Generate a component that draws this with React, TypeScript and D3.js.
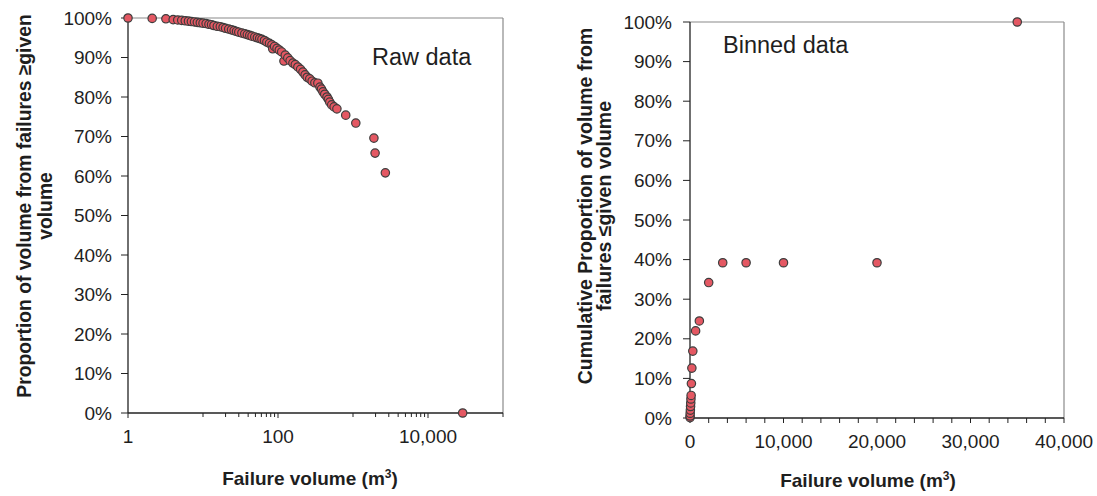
import React from "react";
import * as d3 from "d3";

// ---- Raw data (left chart): failure volume (m3) and proportion of volume from failures >= given volume
const rawVolume = [
  1, 2.1, 3.2, 4.0, 4.6, 5.2, 5.8, 6.4, 7.0, 7.7, 8.4, 9.2, 10, 11, 12, 13, 14, 15.5, 17, 18.5,
  20, 22, 24, 26, 28, 30, 33, 36, 39, 42, 45, 49, 53, 57, 61, 66, 71, 77, 83, 85,
  90, 97, 104, 112, 120, 125, 135, 145, 158, 170, 184, 200, 215, 230, 245, 265, 285, 310, 340, 363,
  380, 398, 420, 450, 470, 490, 520, 560, 610, 800, 1090, 1900, 1970, 2700, 29000,
];
const rawProportion = [
  100, 99.9, 99.8, 99.6, 99.5, 99.4, 99.3, 99.2, 99.1, 99.0, 98.9, 98.8, 98.7, 98.6, 98.4, 98.3, 98.1, 97.9, 97.8, 97.6,
  97.4, 97.2, 97.0, 96.8, 96.6, 96.4, 96.2, 96.0, 95.8, 95.6, 95.4, 95.2, 95.0, 94.8, 94.6, 94.3, 93.9, 93.6, 93.2, 92.2,
  92.8, 92.3, 91.9, 91.4, 89.1, 90.6, 89.9, 89.2, 88.6, 88.2, 87.6, 87.0, 86.3, 85.6, 85.0, 84.6, 84.0, 83.6, 83.5, 82.5,
  82.0, 81.3, 80.7, 80.0, 79.4, 78.7, 78.0, 77.5, 77.0, 75.4, 73.4, 69.6, 65.8, 60.8, 0,
];

// ---- Binned data (right chart)
const binVolume = [
  5, 10, 20, 40, 60, 80, 100, 120, 150, 200, 300, 600, 1000, 2000, 3500, 6000, 10000, 20000, 35000,
];
const binProportion = [
  0.1, 0.5, 1.2, 2.0, 2.9, 3.8, 4.8, 5.7, 8.7, 12.6, 16.9, 22.0, 24.5, 34.2, 39.2, 39.2, 39.2, 39.2, 100,
];

// ---- Axis ticks
const yTicks = [0, 10, 20, 30, 40, 50, 60, 70, 80, 90, 100];
const leftXMajor = [1, 100, 10000];
const leftXMinor = [10, 20, 30, 40, 50, 60, 70, 80, 90, 1000, 2000, 3000, 4000, 5000, 6000, 7000, 8000, 9000, 100000];
const rightXLabels = [0, 10000, 20000, 30000, 40000];
const rightXTicks = d3.range(0, 40001, 2000);

const FONT = "'Liberation Sans', Arial, Helvetica, sans-serif";
const DOT_FILL = "#e45863";
const DOT_STROKE = "#3d3d3d";
const AXIS = "#222";
const BORDER = "#8a8a8a";
const TEXT = "#1e1e1e";

const fmt = d3.format(",");

export default function App() {
  // Left chart scales
  const lx = d3.scaleLog().domain([1, 100000]).range([128, 503]);
  const ly = d3.scaleLinear().domain([0, 100]).range([413, 18]);
  // Right chart scales
  const rx = d3.scaleLinear().domain([0, 40000]).range([690, 1064]);
  const ry = d3.scaleLinear().domain([0, 100]).range([418, 22]);

  const rawPts = rawVolume.map((v, i) => ({ v, p: rawProportion[i] }));
  const binPts = binVolume.map((v, i) => ({ v, p: binProportion[i] }));

  return (
    <svg
      width={1097}
      height={496}
      style={{ position: "absolute", left: 0, top: 0, background: "#fff" }}
      fontFamily={FONT}
    >
      <rect x={0} y={0} width={1097} height={496} fill="#fff" />

      {/* ================= LEFT CHART ================= */}
      <g>
        <line x1={lx(1)} x2={lx(100000)} y1={ly(100)} y2={ly(100)} stroke={BORDER} strokeWidth={1.2} />
        <line x1={lx(100000)} x2={lx(100000)} y1={ly(100)} y2={ly(0)} stroke={BORDER} strokeWidth={1.2} />
        <line x1={lx(1)} x2={lx(1)} y1={ly(100)} y2={ly(0)} stroke={AXIS} strokeWidth={1.3} />
        <line x1={lx(1)} x2={lx(100000)} y1={ly(0)} y2={ly(0)} stroke={AXIS} strokeWidth={1.3} />
        {yTicks.map((t) => (
          <g key={"ly" + t}>
            <line x1={lx(1) - 7} x2={lx(1)} y1={ly(t)} y2={ly(t)} stroke={AXIS} strokeWidth={1} />
            <text x={112} y={ly(t)} dy="0.35em" textAnchor="end" fontSize={19} fill={TEXT}>
              {t + "%"}
            </text>
          </g>
        ))}
        {leftXMajor.map((t) => (
          <g key={"lxM" + t}>
            <line x1={lx(t)} x2={lx(t)} y1={ly(0)} y2={ly(0) + 5} stroke={AXIS} strokeWidth={1} />
            <text x={lx(t)} y={443} textAnchor="middle" fontSize={19} fill={TEXT}>
              {fmt(t)}
            </text>
          </g>
        ))}
        {leftXMinor.map((t) => (
          <line key={"lxm" + t} x1={lx(t)} x2={lx(t)} y1={ly(0)} y2={ly(0) + 4} stroke={AXIS} strokeWidth={1} />
        ))}
        {rawPts.map((d, i) => (
          <circle
            key={"rp" + i}
            cx={lx(d.v)}
            cy={ly(d.p)}
            r={4.2}
            fill={DOT_FILL}
            stroke={DOT_STROKE}
            strokeWidth={1.2}
          />
        ))}
        <text x={372} y={65} fontSize={23.5} fill={TEXT}>Raw data</text>
        <text x={310} y={485} textAnchor="middle" fontSize={19} fontWeight="bold" fill={TEXT}>
          Failure volume (m<tspan fontSize={12} dy={-7}>3</tspan><tspan dy={7}>)</tspan>
        </text>
        <g transform="translate(24,206) rotate(-90)">
          <text x={0} y={0} textAnchor="middle" dominantBaseline="central" fontSize={19.3} fontWeight="bold" fill={TEXT}>
            {"Proportion of volume from  failures \u2265given"}
          </text>
          <text x={0} y={21} textAnchor="middle" dominantBaseline="central" fontSize={19.3} fontWeight="bold" fill={TEXT}>
            volume
          </text>
        </g>
      </g>

      {/* ================= RIGHT CHART ================= */}
      <g>
        <line x1={rx(0)} x2={rx(40000)} y1={ry(100)} y2={ry(100)} stroke={BORDER} strokeWidth={1.2} />
        <line x1={rx(40000)} x2={rx(40000)} y1={ry(100)} y2={ry(0)} stroke={BORDER} strokeWidth={1.2} />
        <line x1={rx(0)} x2={rx(0)} y1={ry(100)} y2={ry(0)} stroke={AXIS} strokeWidth={1.3} />
        <line x1={rx(0)} x2={rx(40000)} y1={ry(0)} y2={ry(0)} stroke={AXIS} strokeWidth={1.3} />
        {yTicks.map((t) => (
          <g key={"ry" + t}>
            <line x1={rx(0) - 7} x2={rx(0)} y1={ry(t)} y2={ry(t)} stroke={AXIS} strokeWidth={1} />
            <text x={672} y={ry(t)} dy="0.35em" textAnchor="end" fontSize={19} fill={TEXT}>
              {t + "%"}
            </text>
          </g>
        ))}
        {rightXTicks.map((t) => (
          <line key={"rxt" + t} x1={rx(t)} x2={rx(t)} y1={ry(0)} y2={ry(0) + 5} stroke={AXIS} strokeWidth={1} />
        ))}
        {rightXLabels.map((t) => (
          <text key={"rxl" + t} x={rx(t)} y={448} textAnchor="middle" fontSize={19} fill={TEXT}>
            {fmt(t)}
          </text>
        ))}
        {binPts.map((d, i) => (
          <circle
            key={"bp" + i}
            cx={rx(d.v)}
            cy={ry(d.p)}
            r={4.2}
            fill={DOT_FILL}
            stroke={DOT_STROKE}
            strokeWidth={1.2}
          />
        ))}
        <text x={723} y={53} fontSize={23.5} fill={TEXT}>Binned data</text>
        <text x={868} y={487} textAnchor="middle" fontSize={19} fontWeight="bold" fill={TEXT}>
          Failure volume (m<tspan fontSize={12} dy={-7}>3</tspan><tspan dy={7}>)</tspan>
        </text>
        <g transform="translate(585,206) rotate(-90)">
          <text x={0} y={0} textAnchor="middle" dominantBaseline="central" fontSize={19.5} fontWeight="bold" fill={TEXT}>
            Cumulative Proportion of volume from
          </text>
          <text x={0} y={19} textAnchor="middle" dominantBaseline="central" fontSize={19.5} fontWeight="bold" fill={TEXT}>
            {"failures \u2264given volume"}
          </text>
        </g>
      </g>
    </svg>
  );
}
